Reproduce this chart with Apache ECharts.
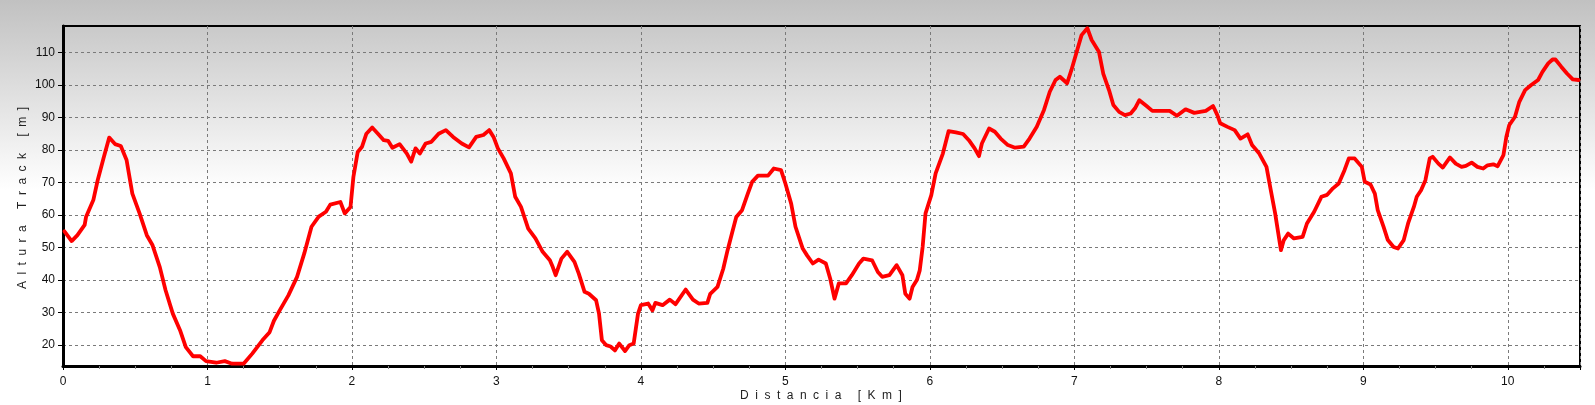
<!DOCTYPE html>
<html>
<head>
<meta charset="utf-8">
<script src="https://cdn.jsdelivr.net/npm/echarts@6/dist/echarts.min.js"></script>
<style>
html,body{margin:0;padding:0;background:#fff;}
#c{width:1595px;height:405px;}
</style>
</head>
<body>
<div id="c"></div>
<script>
// ---- data ----
const distKm = [
0.01,0.02,0.06,0.10,0.15,0.16,0.21,0.24,0.28,0.32,0.36,0.40,0.44,0.48,0.53,0.58,0.62,0.67,0.71,0.76,
0.81,0.85,0.90,0.95,0.99,1.06,1.12,1.17,1.25,1.31,1.38,1.43,1.46,1.50,1.56,1.62,1.67,1.72,1.77,1.82,
1.85,1.92,1.95,1.99,2.01,2.04,2.07,2.10,2.14,2.18,2.22,2.25,2.28,2.33,2.38,2.41,2.44,2.47,2.51,2.55,
2.60,2.65,2.70,2.76,2.81,2.86,2.91,2.95,2.98,3.01,3.05,3.10,3.13,3.17,3.22,3.27,3.32,3.37,3.39,3.41,
3.45,3.49,3.54,3.57,3.61,3.64,3.69,3.71,3.73,3.76,3.79,3.82,3.85,3.89,3.92,3.95,3.98,4.00,4.05,4.08,
4.10,4.15,4.20,4.24,4.31,4.36,4.40,4.46,4.48,4.53,4.57,4.60,4.63,4.66,4.70,4.74,4.77,4.81,4.88,4.92,
4.97,5.00,5.04,5.07,5.12,5.15,5.19,5.23,5.28,5.31,5.34,5.37,5.42,5.46,5.51,5.54,5.60,5.64,5.67,5.72,
5.77,5.81,5.83,5.86,5.88,5.91,5.93,5.95,5.97,6.01,6.04,6.09,6.13,6.18,6.23,6.27,6.31,6.34,6.36,6.41,
6.45,6.49,6.54,6.59,6.65,6.69,6.74,6.79,6.83,6.87,6.90,6.95,6.98,7.02,7.05,7.09,7.12,7.17,7.20,7.24,
7.27,7.31,7.35,7.39,7.42,7.45,7.50,7.54,7.60,7.66,7.71,7.77,7.83,7.91,7.96,7.99,8.01,8.06,8.11,8.15,
8.20,8.23,8.28,8.33,8.36,8.39,8.43,8.45,8.48,8.52,8.58,8.61,8.66,8.71,8.75,8.79,8.83,8.87,8.90,8.94,
8.95,8.99,9.01,9.05,9.08,9.10,9.14,9.17,9.21,9.24,9.28,9.31,9.35,9.37,9.40,9.43,9.46,9.48,9.52,9.55,
9.60,9.64,9.68,9.71,9.75,9.79,9.83,9.86,9.90,9.93,9.97,9.99,10.01,10.05,10.08,10.12,10.16,10.21,10.24,10.28,
10.31,10.33,10.37,10.41,10.45,10.49
];
const altM = [
55,55,52,53.8,57,59.5,64.6,70.7,77.4,83.8,81.8,81.2,76.9,66.6,60.5,53.8,50.7,44,36.9,29.7,
24.6,19.4,16.6,16.6,15.1,14.6,15.1,14.3,14.3,17.4,21.5,24,27.5,30.7,35.3,41,48.2,56.4,59.5,61,
63.2,64,60.5,62.5,71.7,79.4,81,85,86.9,85,83,82.8,80.7,81.8,78.9,76.4,80.5,78.9,82,82.5,
85,86.1,84,82,80.8,84,84.6,86.1,84,80.5,77.4,72.8,65.6,62.5,55.8,52.8,48.7,46.1,44,41.5,
46.6,48.7,45.6,42,36.4,35.8,33.8,29.7,21.5,20,19.6,18.4,20.5,18.2,20,20.5,29.7,32.3,32.8,30.7,
33,32.3,34,32.6,37.1,34,32.8,33,35.8,37.9,43.5,49.2,54.3,59.4,61.5,66.6,70.2,72.1,72.1,74.3,
73.8,69.7,63.5,56.4,49.7,47.6,45.1,46.3,45.1,40.5,34.3,39,39,41.5,45.1,46.6,46.1,42.5,41,41.5,
44.6,41.5,35.8,34.3,37.9,40,43,50.2,60.5,66.1,72.8,78.9,85.8,85.4,84.9,83,80.5,78.1,82,86.6,
85.6,83.5,81.5,80.7,81,83.5,87.1,92.3,97.9,101.5,102.5,100.5,104.6,110.7,115.3,117.4,113.8,110.2,103.5,98.4,
93.8,91.7,90.7,91.2,92.8,95.3,93.5,92,92,92,90.5,92.5,91.4,92,93.5,90.7,88.2,87.1,86.1,83.5,
84.8,81.5,78.9,74.8,67.6,60.5,49.2,52.3,54.3,52.8,53.3,57.4,61,65.6,66.2,68.2,69.7,73.8,77.4,77.4,
77.6,74.8,70.2,69.4,66.6,61.5,56.4,52.3,50.2,49.7,52.3,57.4,62.5,65.6,67.6,70.7,77.4,77.9,75.8,74.6,
77.7,75.8,74.8,75.1,76.1,74.8,74.3,75.3,75.6,75,78.4,84,87.6,90.2,94.8,98.4,99.9,101.5,104,106.6,
107.8,107.8,105.6,103.5,101.7,101.5
];
const yTickValues = [20,30,40,50,60,70,80,90,100,110];
const xAxisTitle = 'Distancia [Km]';
const yAxisTitle = 'Altura Track [m]';

// ---- layout helpers ----
const FONT = '"Liberation Sans", Arial, sans-serif';
const TITLE_SIZE = 12;
const SPACING = 6.5;
const mctx = document.createElement('canvas').getContext('2d');
mctx.font = TITLE_SIZE + 'px ' + FONT;
function spacedChildren(str) {
  const widths = Array.from(str).map(ch => mctx.measureText(ch).width);
  const total = widths.reduce((a, b) => a + b, 0) + SPACING * (widths.length - 1);
  let x = -total / 2;
  const children = [];
  Array.from(str).forEach((ch, i) => {
    if (ch !== ' ') {
      children.push({
        type: 'text', x: x, y: 0,
        style: { text: ch, font: TITLE_SIZE + 'px ' + FONT, fill: '#222', textVerticalAlign: 'middle', verticalAlign: 'middle' }
      });
    }
    x += widths[i] + SPACING;
  });
  return children;
}

const chart = echarts.init(document.getElementById('c'), null, { renderer: 'canvas' });
const option = {
  animation: false,
  backgroundColor: {
    type: 'linear', x: 0, y: 0, x2: 0, y2: 1,
    colorStops: [
      { offset: 0, color: '#c1c1c1' },
      { offset: 0.47, color: '#ffffff' },
      { offset: 1, color: '#ffffff' }
    ]
  },
  grid: {
    left: 63, right: 15, top: 26, bottom: 39,
    show: true, borderColor: '#000', borderWidth: 2, backgroundColor: 'transparent'
  },
  xAxis: {
    type: 'value', min: 0, max: 10.5, interval: 1,
    axisLine: { show: true, onZero: false, lineStyle: { color: '#000', width: 3 } },
    axisTick: { show: true, length: 4, lineStyle: { color: '#000' } },
    minorTick: { show: true, splitNumber: 4, length: 3, lineStyle: { color: '#888' } },
    axisLabel: { showMaxLabel: false, color: '#111', fontSize: 12, fontFamily: FONT, margin: 10 },
    splitLine: { show: true, lineStyle: { color: '#7a7a7a', width: 1, type: [3, 3] } }
  },
  yAxis: {
    type: 'value', min: 13.6, max: 118.1, splitNumber: 10,
    axisLine: { show: true, lineStyle: { color: '#000', width: 3 } },
    axisTick: { show: true, length: 5, customValues: yTickValues, lineStyle: { color: '#000' } },
    axisLabel: { customValues: yTickValues, color: '#111', fontSize: 12, fontFamily: FONT, margin: 8 },
    splitLine: { show: true, lineStyle: { color: '#7a7a7a', width: 1, type: [3, 3] } }
  },
  graphic: [
    { type: 'group', x: 821, y: 396, children: spacedChildren(xAxisTitle) },
    { type: 'group', x: 23, y: 198, rotation: Math.PI / 2, children: spacedChildren(yAxisTitle) }
  ],
  series: [{
    type: 'line',
    data: distKm.map((d, i) => [d, altM[i]]),
    showSymbol: false,
    symbol: 'none',
    smooth: false,
    lineStyle: { color: '#ff0000', width: 3.8, join: 'round', cap: 'round' },
    z: 5
  }]
};
chart.setOption(option);
</script>
</body>
</html>
